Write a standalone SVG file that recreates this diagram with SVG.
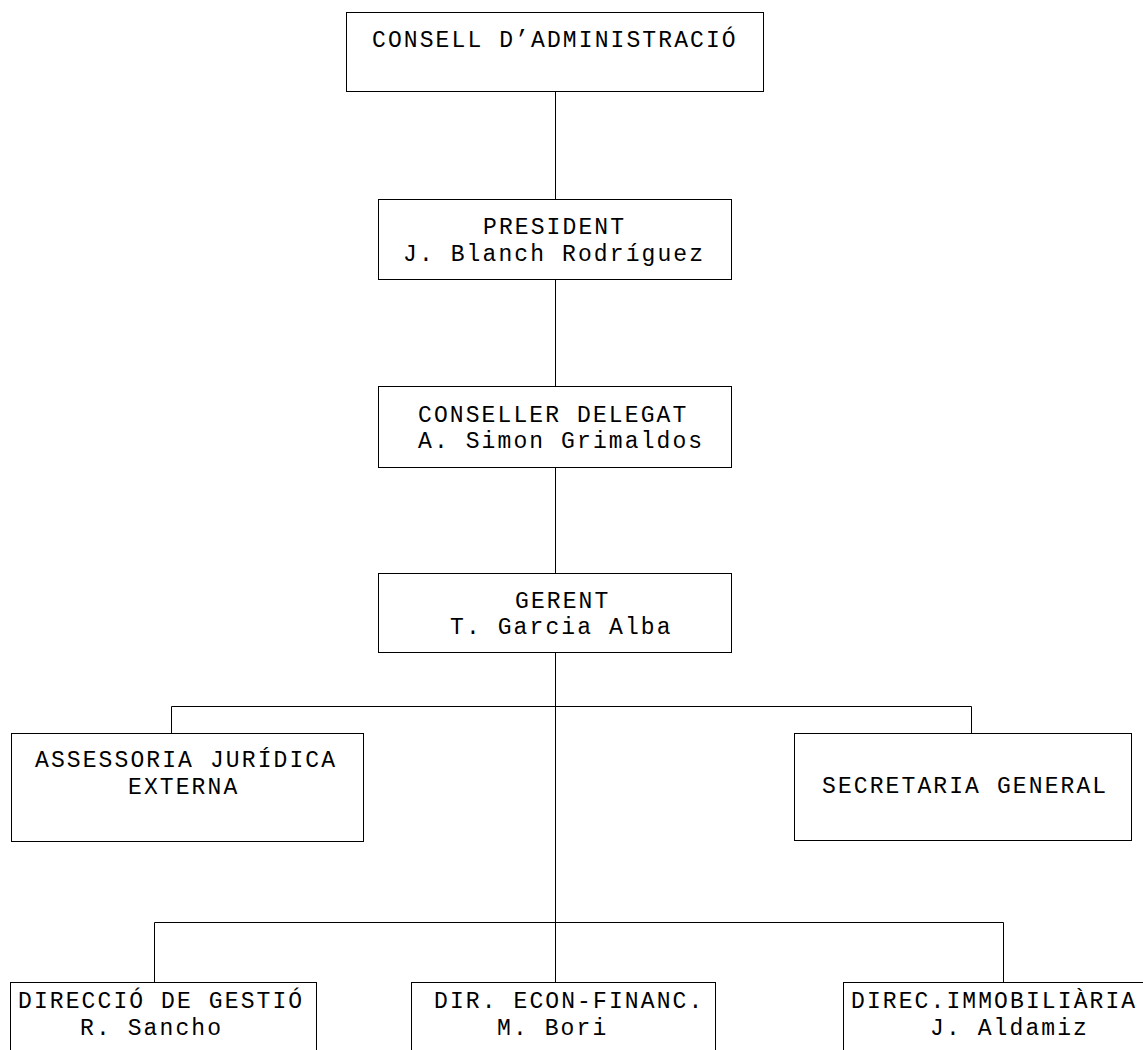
<svg xmlns="http://www.w3.org/2000/svg" width="1143" height="1050" viewBox="0 0 1143 1050">
<style>
.box{fill:#fff;stroke:#000;stroke-width:1}
.ln{fill:none;stroke:#000;stroke-width:1}
text{font-family:"Liberation Mono","Courier New",monospace;font-size:23px;letter-spacing:2.1px;fill:#000}
</style>
<rect width="1143" height="1050" fill="#fff"/>
<g id="connectors">
<path class="ln" d="M555.5 91V199M555.5 279V386M555.5 467V573M555.5 652V922M171.5 733V706.5H971.5V733M154.5 982V922.5H1003.5V982M555.5 922V982"/>
</g>
<g id="n1"><rect class="box" x="346.5" y="12.5" width="417" height="79"/><text x="372" y="47">CONSELL D’ADMINISTRACIÓ</text></g>
<g id="n2"><rect class="box" x="378.5" y="199.5" width="353" height="80"/><text x="483" y="234">PRESIDENT</text><text x="403" y="261">J. Blanch Rodríguez</text></g>
<g id="n3"><rect class="box" x="378.5" y="386.5" width="353" height="81"/><text x="418" y="422">CONSELLER DELEGAT</text><text x="418" y="448">A. Simon Grimaldos</text></g>
<g id="n4"><rect class="box" x="378.5" y="573.5" width="353" height="79"/><text x="515" y="608">GERENT</text><text x="450" y="634">T. Garcia Alba</text></g>
<g id="n5"><rect class="box" x="11.5" y="733.5" width="352" height="108"/><text x="35" y="767">ASSESSORIA JURÍDICA</text><text x="128" y="794">EXTERNA</text></g>
<g id="n6"><rect class="box" x="794.5" y="733.5" width="337" height="107"/><text x="822" y="793">SECRETARIA GENERAL</text></g>
<g id="n7"><rect class="box" x="10.5" y="982.5" width="306" height="100"/><text x="18" y="1008">DIRECCIÓ DE GESTIÓ</text><text x="80" y="1035">R. Sancho</text></g>
<g id="n8"><rect class="box" x="411.5" y="982.5" width="304" height="100"/><text x="434" y="1008">DIR. ECON-FINANC.</text><text x="497" y="1035">M. Bori</text></g>
<g id="n9"><rect class="box" x="843.5" y="982.5" width="320" height="100"/><text x="851" y="1008">DIREC.IMMOBILIÀRIA</text><text x="930" y="1035">J. Aldamiz</text></g>
</svg>
